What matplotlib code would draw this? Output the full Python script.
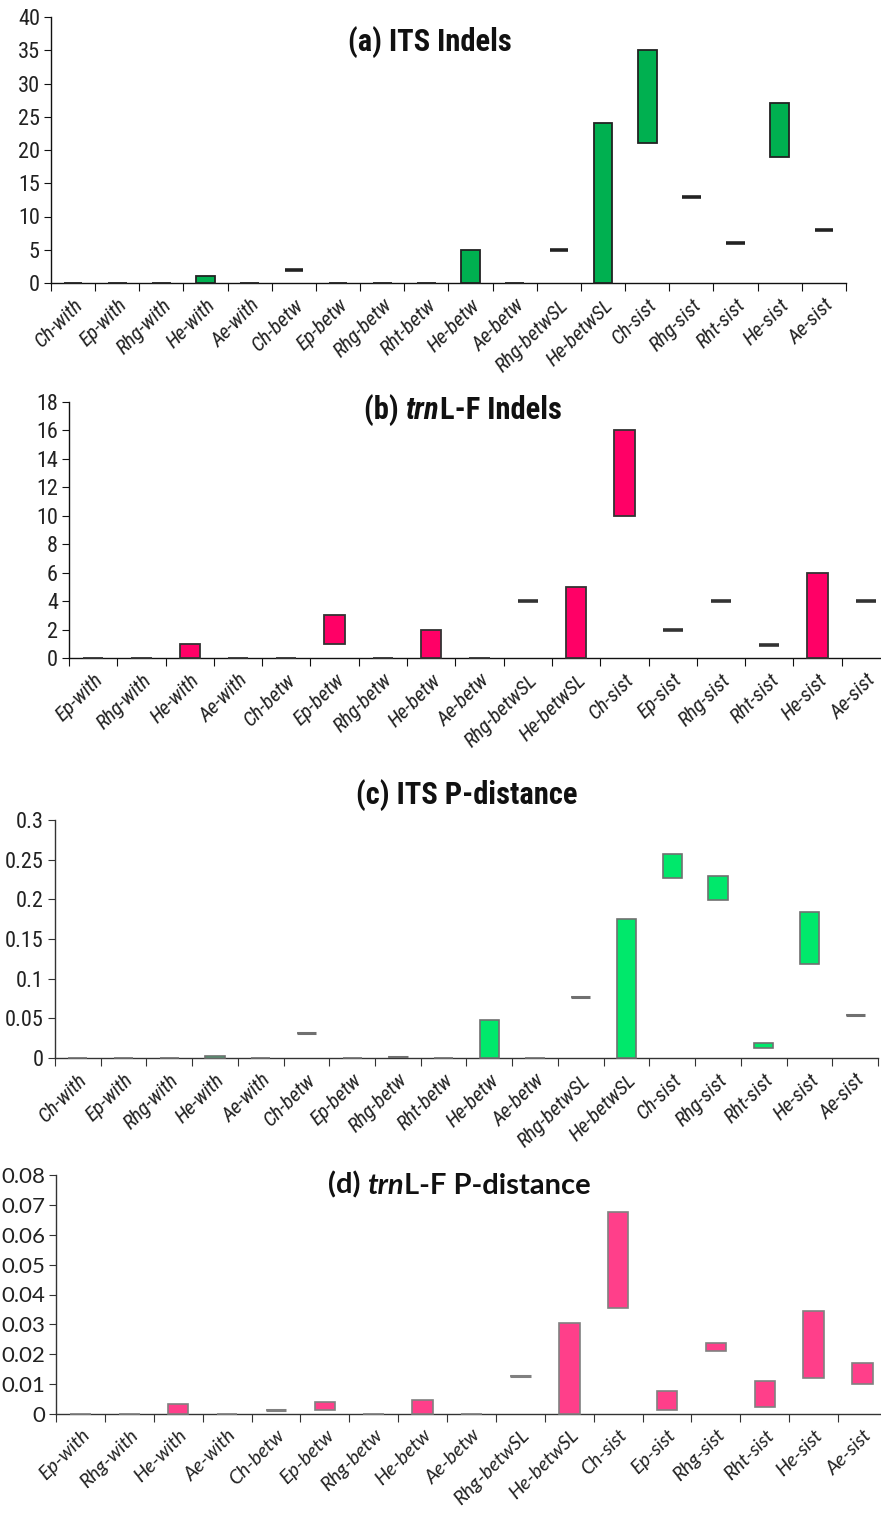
import numpy as np
import matplotlib
matplotlib.use("Agg")
from matplotlib import pyplot as plt
from matplotlib import font_manager
from matplotlib.offsetbox import TextArea, HPacker, AnchoredOffsetbox

# categories
cats_a = ["Ch-with", "Ep-with", "Rhg-with", "He-with", "Ae-with", "Ch-betw", "Ep-betw",
          "Rhg-betw", "Rht-betw", "He-betw", "Ae-betw", "Rhg-betwSL", "He-betwSL",
          "Ch-sist", "Rhg-sist", "Rht-sist", "He-sist", "Ae-sist"]
cats_b = ["Ep-with", "Rhg-with", "He-with", "Ae-with", "Ch-betw", "Ep-betw", "Rhg-betw",
          "He-betw", "Ae-betw", "Rhg-betwSL", "He-betwSL", "Ch-sist", "Ep-sist",
          "Rhg-sist", "Rht-sist", "He-sist", "Ae-sist"]
cats_c = cats_a
cats_d = cats_b

# (a) ITS indels : min / max
its_ind_lo = [0, 0, 0, 0, 0, 2, 0, 0, 0, 0, 0, 5, 0, 21, 13, 6, 19, 8]
its_ind_hi = [0, 0, 0, 1, 0, 2, 0, 0, 0, 5, 0, 5, 24, 35, 13, 6, 27, 8]
# (b) trnL-F indels
trn_ind_lo = [0, 0, 0, 0, 0, 1, 0, 0, 0, 4, 0, 10, 2, 4, 0.9, 0, 4]
trn_ind_hi = [0, 0, 1, 0, 0, 3, 0, 2, 0, 4, 5, 16, 2, 4, 0.9, 6, 4]
# (c) ITS p-distance
its_p_lo = [0, 0, 0, 0, 0, 0.031, 0, 0.001, 0, 0, 0, 0.0765, 0, 0.227, 0.1995, 0.0122, 0.119, 0.0537]
its_p_hi = [0, 0, 0, 0.003, 0, 0.031, 0, 0.001, 0, 0.048, 0, 0.0765, 0.1758, 0.2568, 0.2291, 0.0193, 0.1838, 0.0537]
# (d) trnL-F p-distance
trn_p_lo = [0, 0, 0, 0, 0.0012, 0.0012, 0, 0, 0, 0.0127, 0, 0.0356, 0.0012, 0.0211, 0.0025, 0.0119, 0.0099]
trn_p_hi = [0, 0, 0.0035, 0, 0.0012, 0.0039, 0, 0.0048, 0, 0.0127, 0.0305, 0.0675, 0.0078, 0.0237, 0.0112, 0.0344, 0.0172]

yt_a = [0, 5, 10, 15, 20, 25, 30, 35, 40]
yt_b = [0, 2, 4, 6, 8, 10, 12, 14, 16, 18]
yt_c = [0, 0.05, 0.1, 0.15, 0.2, 0.25, 0.3]
yl_c = ["0", "0.05", "0.1", "0.15", "0.2", "0.25", "0.3"]
yt_d = [0, 0.01, 0.02, 0.03, 0.04, 0.05, 0.06, 0.07, 0.08]
yl_d = ["0", "0.01", "0.02", "0.03", "0.04", "0.05", "0.06", "0.07", "0.08"]

W, H = 881, 1514

# pick a narrow font if there is one, else Arial-like Liberation Sans
have = {f.name for f in font_manager.fontManager.ttflist}
narrow = None
for nm in ["Liberation Sans Narrow", "Roboto Condensed", "Open Sans Condensed",
           "Arial Narrow", "DejaVu Sans Condensed"]:
    if nm in have:
        narrow = nm
        break
if narrow is None:
    NARROW = ["Liberation Sans", "DejaVu Sans"]
    k = 0.85
else:
    NARROW = [narrow, "DejaVu Sans"]
    k = 1.0
CAL = ["Lato", "DejaVu Sans"]

fig = plt.figure(figsize=(W / 100, H / 100), dpi=100)


def make_ax(l, r, t, b):
    return fig.add_axes([l / W, 1 - b / H, (r - l) / W, (b - t) / H])


def panel(ax, cats, lo, hi, color, edge, axcol, yticks, ylabels, ymax, font, fs_x, fs_y, lw, dash_lw):
    n = len(cats)
    x = np.arange(n) + 0.5
    lo = np.array(lo)
    hi = np.array(hi)
    ax.bar(x, hi - lo, bottom=lo, width=0.42, color=color, edgecolor=edge,
           linewidth=lw, clip_on=False, zorder=3)
    same = (hi == lo) & (hi > 0)
    ax.hlines(lo[same], x[same] - 0.21, x[same] + 0.21, color=edge, linewidth=dash_lw, zorder=4)
    ax.set_xlim(0, n)
    ax.set_ylim(0, ymax)
    ax.set_xticks(np.arange(n + 1))
    ax.set_xticklabels([])
    ax.set_xticks(x, minor=True)
    ax.set_xticklabels(cats, minor=True, rotation=45, ha="right", rotation_mode="anchor",
                       family=font, style="italic", fontsize=fs_x, color="#222222")
    ax.tick_params(axis="x", which="minor", length=0, pad=9)
    ax.tick_params(axis="x", which="major", length=6, color=axcol, direction="out")
    ax.set_yticks(yticks)
    ax.set_yticklabels(ylabels, family=font, fontsize=fs_y, color="#222222")
    ax.tick_params(axis="y", length=5, color=axcol, pad=3)
    for s in ["top", "right"]:
        ax.spines[s].set_visible(False)
    for s in ["left", "bottom"]:
        ax.spines[s].set_color(axcol)
        ax.spines[s].set_linewidth(1.0)


def title(ax, parts, x, y, font, fs):
    boxes = [TextArea(s, textprops=dict(family=font, weight="bold", style=st, fontsize=fs,
                                        color="#111111")) for s, st in parts]
    pk = HPacker(children=boxes, align="baseline", pad=0, sep=0)
    ab = AnchoredOffsetbox(loc="center", child=pk, bbox_to_anchor=(x, y),
                           bbox_transform=ax.transAxes, frameon=False, pad=0, borderpad=0)
    ax.add_artist(ab)


ax_a = make_ax(51, 846, 17, 283)
panel(ax_a, cats_a, its_ind_lo, its_ind_hi, "#00B050", "#222222", "#111111",
      yt_a, [str(v) for v in yt_a], 40, NARROW, 15 * k, 16 * k, 1.3, 2.6)
title(ax_a, [("(a) ITS Indels", "normal")], 0.477, 0.905, NARROW, 22 * k)

ax_b = make_ax(69, 890, 402, 658)
panel(ax_b, cats_b, trn_ind_lo, trn_ind_hi, "#FF0066", "#333333", "#111111",
      yt_b, [str(v) for v in yt_b], 18, NARROW, 15 * k, 16 * k, 1.3, 2.6)
title(ax_b, [("(b) ", "normal"), ("trn", "italic"), ("L-F Indels", "normal")],
      0.48, 0.97, NARROW, 22 * k)

ax_c = make_ax(55, 878, 820, 1058)
panel(ax_c, cats_c, its_p_lo, its_p_hi, "#00E86B", "#707070", "#333333",
      yt_c, yl_c, 0.3, NARROW, 15 * k, 16 * k, 1.2, 2.2)
title(ax_c, [("(c) ITS P-distance", "normal")], 0.5, 1.105, NARROW, 22 * k)

ax_d = make_ax(56, 887, 1175, 1414)
panel(ax_d, cats_d, trn_p_lo, trn_p_hi, "#FF3F8A", "#808080", "#333333",
      yt_d, yl_d, 0.08, CAL, 14, 16, 1.2, 2.2)
title(ax_d, [("(d) ", "normal"), ("trn", "italic"), ("L-F P-distance", "normal")],
      0.485, 0.958, CAL, 21)

fig.savefig("out.png", dpi=100)
